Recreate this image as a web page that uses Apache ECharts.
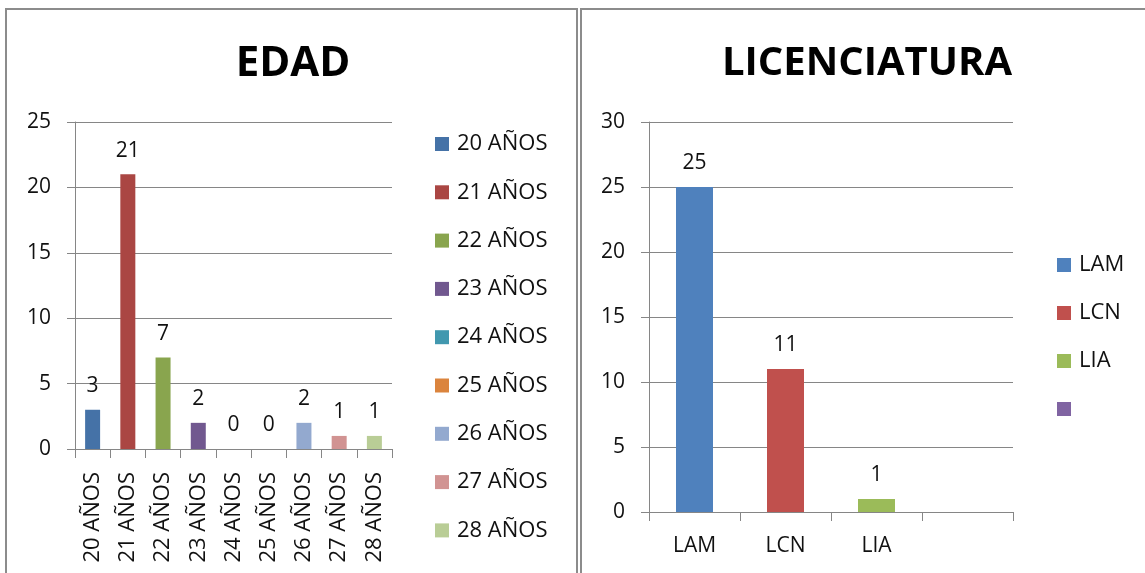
<!DOCTYPE html>
<html>
<head>
<meta charset="utf-8">
<script src="https://cdn.jsdelivr.net/npm/echarts@6/dist/echarts.min.js"></script>
<style>
html,body{margin:0;padding:0;background:#fff;overflow:hidden;}
#chart{position:absolute;left:0;top:0;width:1145px;height:573px;}
.panel{position:absolute;border:2px solid #8c8c8c;box-sizing:border-box;pointer-events:none;}
</style>
</head>
<body>
<div id="chart"></div>
<div class="panel" style="left:5px;top:8px;width:573px;height:620px;"></div>
<div class="panel" style="left:580px;top:8px;width:620px;height:620px;"></div>
<script>
// ---- data ----
const edadTitle = 'EDAD';
const edadCategories = ['20 AÑOS','21 AÑOS','22 AÑOS','23 AÑOS','24 AÑOS','25 AÑOS','26 AÑOS','27 AÑOS','28 AÑOS'];
const edadValues = [3, 21, 7, 2, 0, 0, 2, 1, 1];
const edadTicks = [0, 5, 10, 15, 20, 25];

const licTitle = 'LICENCIATURA';
const licCategories = ['LAM', 'LCN', 'LIA', ''];
const licValues = [25, 11, 1, null];
const licLegendNames = ['LAM', 'LCN', 'LIA', ' '];
const licTicks = [0, 5, 10, 15, 20, 25, 30];

// ---- styles ----
const edadColors = ['#4572A7','#AA4643','#89A54E','#71588F','#4198AF','#DB843D','#93A9CF','#D19392','#B9CD96'];
const licColors = ['#4F81BD','#C0504D','#9BBB59','#8064A2'];
const FONT = 'Open Sans';
const GRID_COLOR = '#868686';

function oneHot(values, i) {
  return values.map((v, j) => (j === i ? v : null));
}

const series = [];
edadCategories.forEach((name, i) => {
  series.push({
    name: name, type: 'bar', stack: 'edad', xAxisIndex: 0, yAxisIndex: 0,
    barWidth: 15,
    itemStyle: { color: edadColors[i] },
    label: { show: true, position: 'top', distance: 13, color: '#111', fontFamily: FONT, fontSize: 21 },
    data: oneHot(edadValues, i)
  });
});
licLegendNames.forEach((name, i) => {
  series.push({
    name: name, type: 'bar', stack: 'lic', xAxisIndex: 1, yAxisIndex: 1,
    barWidth: 37,
    itemStyle: { color: licColors[i] },
    label: { show: true, position: 'top', distance: 13, color: '#111', fontFamily: FONT, fontSize: 21 },
    data: oneHot(licValues, i)
  });
});

const axisCommonY = {
  type: 'value', min: 0, interval: 5,
  axisLine: { show: true, lineStyle: { color: GRID_COLOR } },
  axisTick: { show: true, length: 8, lineStyle: { color: GRID_COLOR } },
  splitLine: { show: true, lineStyle: { color: GRID_COLOR, width: 1 } },
  axisLabel: { color: '#111', fontFamily: FONT, fontSize: 21, margin: 24 }
};
const axisCommonX = {
  type: 'category',
  axisLine: { show: true, lineStyle: { color: GRID_COLOR } },
  axisTick: { show: true, length: 9, lineStyle: { color: GRID_COLOR } },
  splitLine: { show: false }
};

const chart = echarts.init(document.getElementById('chart'));
chart.setOption({
  animation: false,
  backgroundColor: '#fff',
  title: [
    { text: edadTitle, left: 288, top: 38, textAlign: 'center',
      textStyle: { fontFamily: FONT, fontWeight: 'bold', fontSize: 42, color: '#000' } },
    { text: licTitle, left: 862, top: 39, textAlign: 'center',
      textStyle: { fontFamily: FONT, fontWeight: 'bold', fontSize: 40, color: '#000' } }
  ],
  legend: [
    { data: edadCategories, orient: 'vertical', left: 435, top: 133, padding: 0, itemWidth: 14, itemHeight: 14,
      itemGap: 26.3, icon: 'rect', selectedMode: false,
      textStyle: { fontFamily: FONT, fontSize: 22, lineHeight: 22, color: '#111', padding: [0,0,0,3] } },
    { data: licLegendNames, orient: 'vertical', left: 1057, top: 254, padding: 0, itemWidth: 14, itemHeight: 14,
      itemGap: 26, icon: 'rect', selectedMode: false,
      textStyle: { fontFamily: FONT, fontSize: 22, lineHeight: 22, color: '#111', padding: [0,0,0,3] } }
  ],
  grid: [
    { left: 75, top: 122, width: 317, height: 327 },
    { left: 649, top: 122, width: 364, height: 390 }
  ],
  xAxis: [
    Object.assign({}, axisCommonX, { gridIndex: 0, data: edadCategories,
      axisLabel: { rotate: 90, interval: 0, margin: 23, color: '#111', fontFamily: FONT, fontSize: 22 } }),
    Object.assign({}, axisCommonX, { gridIndex: 1, data: licCategories,
      axisLabel: { interval: 0, margin: 24, color: '#111', fontFamily: FONT, fontSize: 21 } })
  ],
  yAxis: [
    Object.assign({}, axisCommonY, { gridIndex: 0, max: edadTicks[edadTicks.length - 1] }),
    Object.assign({}, axisCommonY, { gridIndex: 1, max: licTicks[licTicks.length - 1] })
  ],
  series: series
});
</script>
</body>
</html>
